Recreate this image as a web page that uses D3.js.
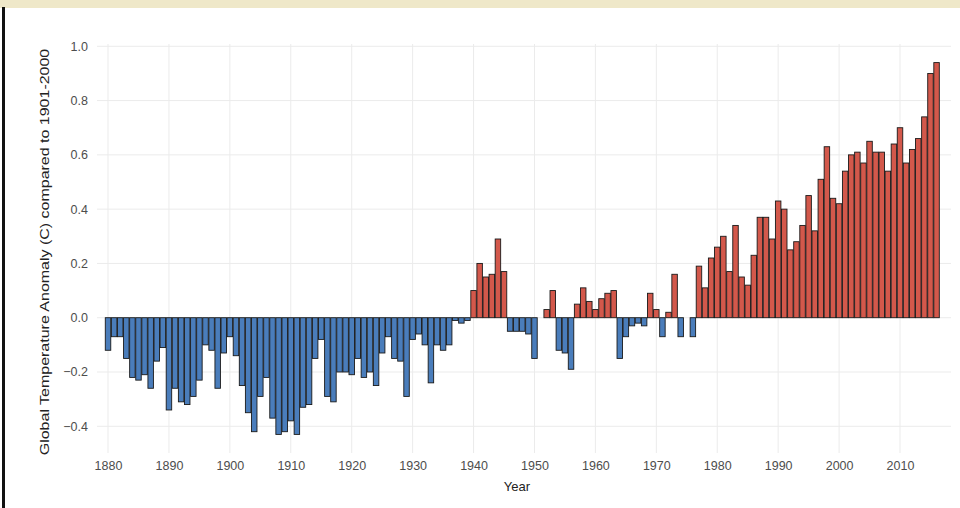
<!DOCTYPE html>
<html>
<head>
<meta charset="utf-8">
<script src="https://cdn.jsdelivr.net/npm/d3@7"></script>
<style>
  body { margin: 0; background: #fff; }
  text { font-family: "Liberation Sans", Arial, sans-serif; }
</style>
</head>
<body>
<script>
// annual anomaly, one value per year starting at firstYear
const firstYear = 1880
const anomalies = [
  -0.12, -0.07, -0.07, -0.15, -0.22, -0.23, -0.21, -0.26, -0.16, -0.11,
  -0.34, -0.26, -0.31, -0.32, -0.29, -0.23, -0.10, -0.12, -0.26, -0.13,
  -0.07, -0.14, -0.25, -0.35, -0.42, -0.29, -0.22, -0.37, -0.43, -0.42,
  -0.38, -0.43, -0.33, -0.32, -0.15, -0.08, -0.29, -0.31, -0.20, -0.20,
  -0.21, -0.15, -0.22, -0.20, -0.25, -0.13, -0.07, -0.15, -0.16, -0.29,
  -0.08, -0.06, -0.10, -0.24, -0.10, -0.12, -0.10, -0.01, -0.02, -0.01,
   0.10,  0.20,  0.15,  0.16,  0.29,  0.17, -0.05, -0.05, -0.05, -0.06,
  -0.15,  0.00,  0.03,  0.10, -0.12, -0.13, -0.19,  0.05,  0.11,  0.06,
   0.03,  0.07,  0.09,  0.10, -0.15, -0.07, -0.03, -0.02, -0.03,  0.09,
   0.03, -0.07,  0.02,  0.16, -0.07,  0.00, -0.07,  0.19,  0.11,  0.22,
   0.26,  0.30,  0.17,  0.34,  0.15,  0.12,  0.23,  0.37,  0.37,  0.29,
   0.43,  0.40,  0.25,  0.28,  0.34,  0.45,  0.32,  0.51,  0.63,  0.44,
   0.42,  0.54,  0.60,  0.61,  0.57,  0.65,  0.61,  0.61,  0.54,  0.64,
   0.70,  0.57,  0.62,  0.66,  0.74,  0.90,  0.94
]
const years = anomalies.map((d, i) => firstYear + i)
const yearTicks = [1880, 1890, 1900, 1910, 1920, 1930, 1940, 1950, 1960, 1970, 1980, 1990, 2000, 2010]
const anomalyTicks = [-0.4, -0.2, 0.0, 0.2, 0.4, 0.6, 0.8, 1.0]

const width = 960, height = 508
const panel = {left: 97, right: 951, top: 44, bottom: 453}

const svg = d3.select('body').append('svg')
  .attr('width', width)
  .attr('height', height)

// beige strip at the top and the dark frame edge on the left
svg.append('rect').attr('x', 0).attr('y', 0).attr('width', width).attr('height', 8).attr('fill', '#efe8c9')
svg.append('rect').attr('x', 2).attr('y', 7).attr('width', 3).attr('height', height - 7).attr('fill', '#111')

const x = d3.scaleLinear()
  .domain([1878.19, 2018.37])
  .range([panel.left, panel.right])

const y = d3.scaleLinear()
  .domain([-0.4985, 1.0085])
  .range([panel.bottom, panel.top])

const barW = (x(1) - x(0)) * 0.9

// grid
const grid = svg.append('g').attr('stroke', '#ebebeb').attr('stroke-width', 1)
grid.selectAll('.hg').data(anomalyTicks).enter().append('line')
  .attr('x1', panel.left).attr('x2', panel.right)
  .attr('y1', d => y(d)).attr('y2', d => y(d))
grid.selectAll('.vg').data(yearTicks).enter().append('line')
  .attr('y1', panel.top).attr('y2', panel.bottom)
  .attr('x1', d => x(d)).attr('x2', d => x(d))

// bars
svg.append('g').selectAll('rect')
  .data(anomalies)
  .enter().append('rect')
  .attr('x', (d, i) => x(years[i]) - barW / 2)
  .attr('width', barW)
  .attr('y', d => y(Math.max(0, d)))
  .attr('height', d => Math.abs(y(d) - y(0)))
  .attr('fill', d => d > 0 ? '#d3584b' : '#4a7dbb')
  .attr('stroke', '#1a1a1a')
  .attr('stroke-width', 0.9)

// axes: labels only, like theme_minimal
const xAxis = svg.append('g')
  .attr('transform', 'translate(0,' + (panel.bottom + 4) + ')')
  .call(d3.axisBottom(x).tickValues(yearTicks).tickFormat(d3.format('d')).tickSize(0).tickPadding(4))
xAxis.select('.domain').remove()
xAxis.selectAll('text').attr('fill', '#4d4d4d').attr('font-size', 12.5)

const yAxis = svg.append('g')
  .attr('transform', 'translate(' + (panel.left - 5) + ',0)')
  .call(d3.axisLeft(y).tickValues(anomalyTicks).tickFormat(d3.format('.1f')).tickSize(0).tickPadding(4))
yAxis.select('.domain').remove()
yAxis.selectAll('text').attr('fill', '#4d4d4d').attr('font-size', 12.5)

svg.append('text')
  .attr('x', 517)
  .attr('y', 491)
  .attr('text-anchor', 'middle')
  .attr('font-size', 13)
  .attr('fill', '#222')
  .text('Year')

svg.append('text')
  .attr('transform', 'translate(49,252) rotate(-90) scale(1.23,1)')
  .attr('text-anchor', 'middle')
  .attr('font-size', 13)
  .attr('fill', '#222')
  .text('Global Temperature Anomaly (C) compared to 1901-2000')
</script>
</body>
</html>
